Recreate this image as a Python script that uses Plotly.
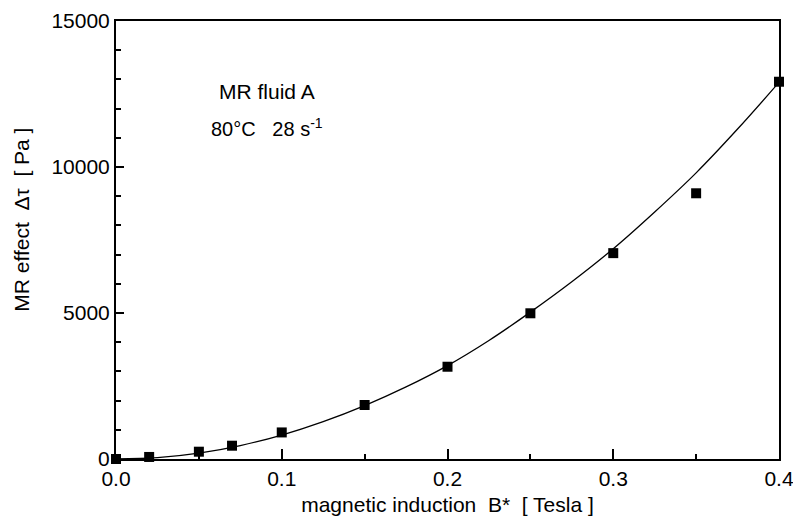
import plotly.graph_objects as go

# Measured MR effect vs. magnetic induction
induction = [0.0, 0.02, 0.05, 0.07, 0.10, 0.15, 0.20, 0.25, 0.30, 0.35, 0.40]
mr_effect = [0, 70, 250, 455, 910, 1850, 3160, 4990, 7050, 9100, 12920]

# Fitted curve, sampled along the induction range
fit_induction = [0.0, 0.025, 0.05, 0.075, 0.10, 0.125, 0.15, 0.175, 0.20,
                 0.225, 0.25, 0.275, 0.30, 0.325, 0.35, 0.375, 0.40]
fit_effect = [0, 45, 200, 460, 820, 1280, 1830, 2470, 3200,
              4060, 5030, 6070, 7200, 8460, 9800, 11300, 12900]

x_ticks = [0.0, 0.1, 0.2, 0.3, 0.4]
x_tick_text = ["0.0", "0.1", "0.2", "0.3", "0.4"]
y_ticks = [0, 5000, 10000, 15000]
y_tick_text = ["0", "5000", "10000", "15000"]

FONT = "Liberation Sans, Arial, sans-serif"
FS = 21

fig = go.Figure()
fig.add_trace(go.Scatter(
    x=fit_induction, y=fit_effect, mode="lines",
    line=dict(color="black", width=1.3, shape="spline", smoothing=1.0),
    hoverinfo="skip", showlegend=False,
))
fig.add_trace(go.Scatter(
    x=induction, y=mr_effect, mode="markers",
    marker=dict(symbol="square", size=10, color="black"),
    cliponaxis=False, showlegend=False,
))

fig.update_layout(
    width=793, height=525,
    margin=dict(l=116, r=14, t=21, b=66, autoexpand=False),
    paper_bgcolor="white", plot_bgcolor="white",
    font=dict(family=FONT, size=FS, color="black"),
    xaxis=dict(
        range=[0, 0.4], tickvals=x_ticks, ticktext=x_tick_text,
        ticks="inside", ticklen=10, tickwidth=2, tickcolor="black",
        minor=dict(dtick=0.05, ticks="inside", ticklen=5, tickwidth=1.5, tickcolor="black"),
        showline=True, linecolor="black", linewidth=2, mirror=True,
        showgrid=False, zeroline=False, automargin=False,
        ticklabeloverflow="allow",
        title=dict(text="magnetic induction  B*  [ Tesla ]", standoff=8,
                   font=dict(size=FS)),
        tickfont=dict(size=FS),
    ),
    yaxis=dict(
        range=[0, 15000], tickvals=y_ticks, ticktext=y_tick_text,
        ticks="inside", ticklen=8, tickwidth=2, tickcolor="black",
        minor=dict(dtick=1000, ticks="inside", ticklen=5, tickwidth=1.5, tickcolor="black"),
        showline=True, linecolor="black", linewidth=2, mirror=True,
        showgrid=False, zeroline=False, automargin=False,
        ticklabeloverflow="allow",
        tickfont=dict(size=FS),
    ),
    annotations=[
        dict(text="MR effect  Δτ  [ Pa ]", textangle=-90,
             xref="paper", yref="paper", x=-0.142, y=0.546,
             xanchor="center", yanchor="middle", showarrow=False,
             font=dict(size=FS)),
        dict(text="MR fluid A", xref="paper", yref="paper",
             x=0.228, y=0.838, xanchor="center", yanchor="middle",
             showarrow=False, font=dict(size=FS)),
        dict(text="80°C   28 s<sup>-1</sup>", xref="paper", yref="paper",
             x=0.228, y=0.756, xanchor="center", yanchor="middle",
             showarrow=False, font=dict(size=20)),
    ],
)

fig.write_html("out.html")
